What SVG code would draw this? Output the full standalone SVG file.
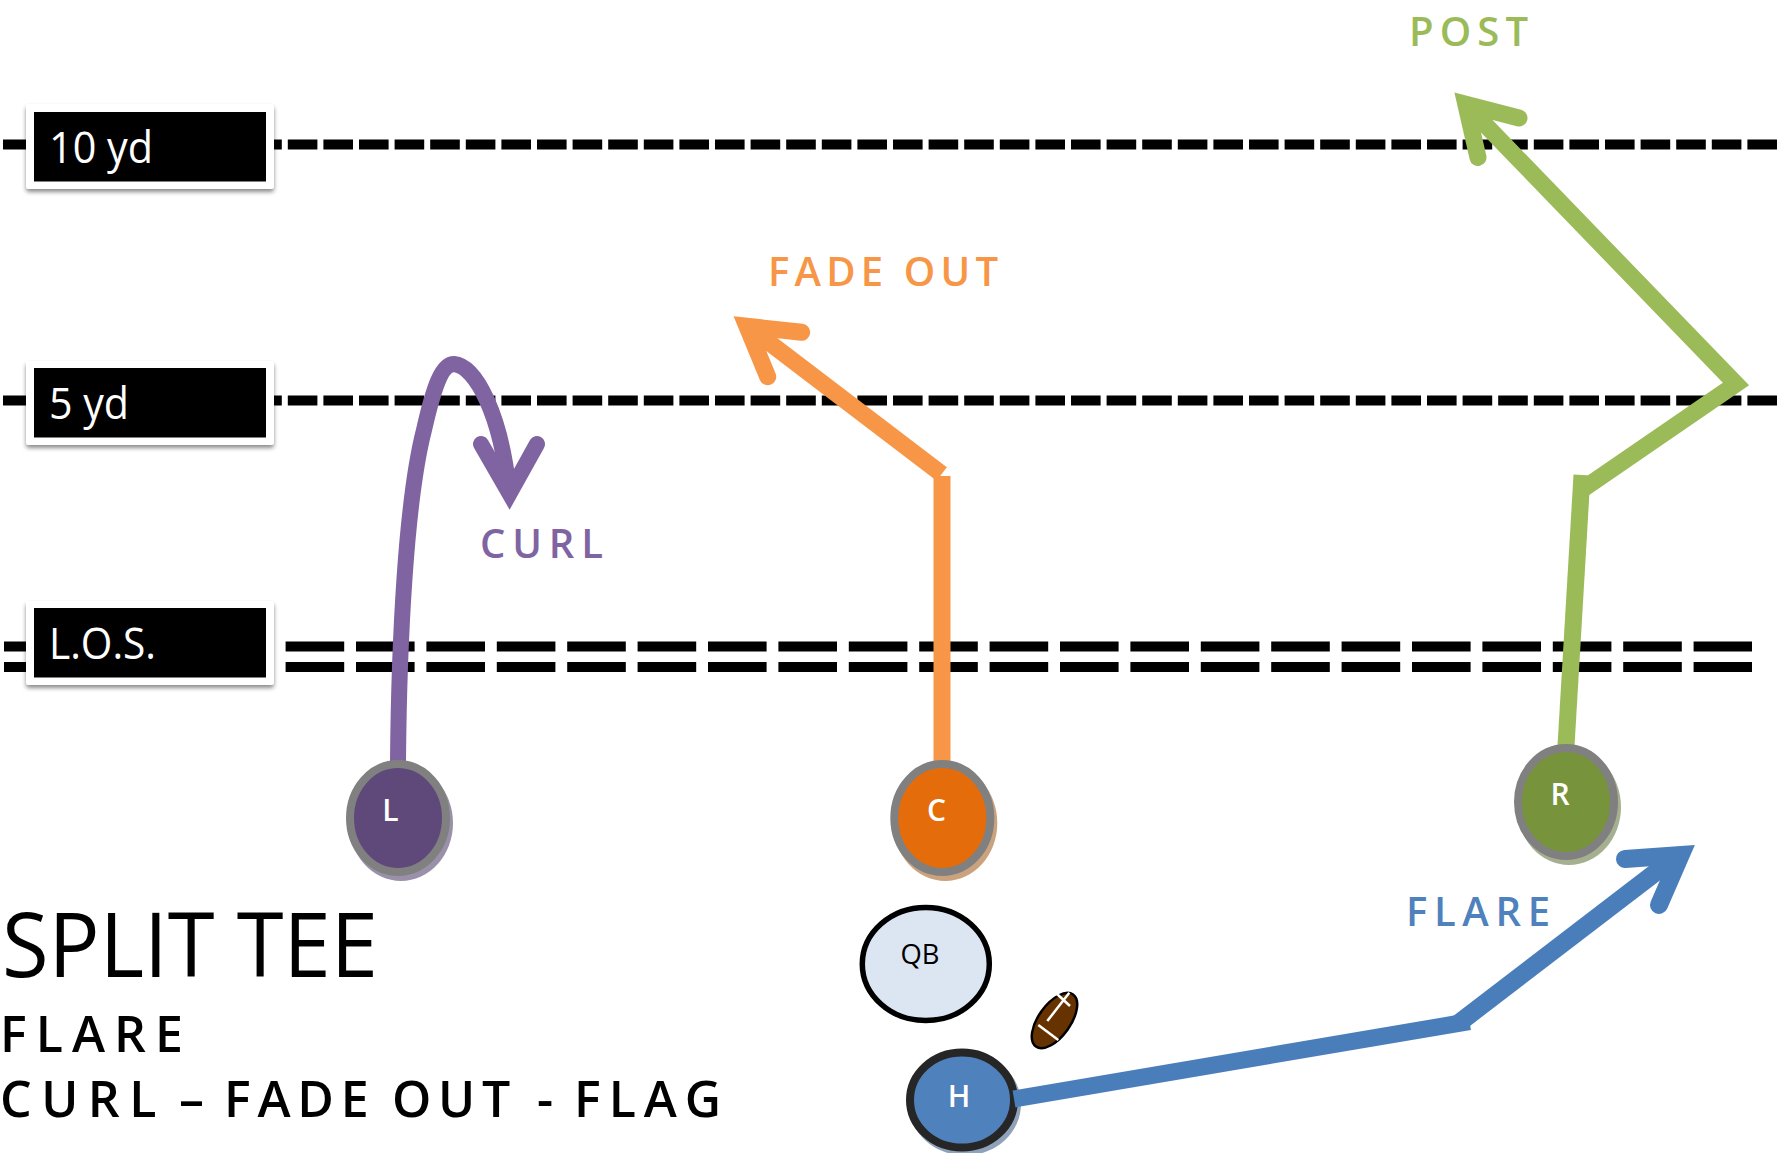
<svg xmlns="http://www.w3.org/2000/svg" width="1787" height="1153" viewBox="0 0 1787 1153">
<defs>
<filter id="sh" x="-10%" y="-20%" width="120%" height="150%"><feDropShadow dx="0" dy="3" stdDeviation="2.2" flood-color="#000" flood-opacity="0.45"/></filter>
</defs>
<style>
text{font-family:"Open Sans","Noto Sans","Liberation Sans",sans-serif}
.y{fill:none;stroke:#000;stroke-width:10;stroke-dasharray:29.6 6}
.l{fill:none;stroke:#000;stroke-width:10;stroke-dasharray:58.6 11.8}
.out{fill:#fff;filter:url(#sh)}
.lab{fill:#fff;font-size:43px}
.r{fill:none;stroke-width:17}
.h{fill:none;stroke-width:17;stroke-linecap:round;stroke-linejoin:miter;stroke-miterlimit:10}
.rt{font-size:40px;font-weight:600}
.n{fill:#fff;font-size:30px;font-weight:600}
.pu{stroke:#8064a2}.or{stroke:#f79646}.gr{stroke:#9bbb59}.bl{stroke:#4a7ebb}
</style>
<g id="yard-lines">
<path class="y" d="M3 144.500H1777"/>
<path class="y" d="M3 400.500H1777"/>
<path class="l" d="M4 646.500H1752"/>
<path class="l" d="M4 667H1752"/>
</g>
<g id="label-10yd"><rect class="out" x="26" y="104" width="248" height="85" rx="3"/><rect x="34" y="112" width="232" height="69.500"/><text class="lab" x="49" y="162.500" textLength="104" lengthAdjust="spacingAndGlyphs">10 yd</text></g>
<g id="label-5yd"><rect class="out" x="26" y="361" width="248" height="84" rx="3"/><rect x="34" y="368" width="232" height="69.500"/><text class="lab" x="49" y="419" textLength="80" lengthAdjust="spacingAndGlyphs">5 yd</text></g>
<g id="label-los"><rect class="out" x="26" y="601" width="248" height="84" rx="3"/><rect x="34" y="608" width="232" height="69.500"/><text class="lab" x="49" y="659" textLength="107" lengthAdjust="spacingAndGlyphs">L.O.S.</text></g>
<g id="node-h"><ellipse cx="965" cy="1104" rx="56" ry="51.500" fill="#8ea3ba"/><ellipse cx="962" cy="1100" rx="52" ry="47.500" fill="#4f81bd" stroke="#262626" stroke-width="8"/><text class="n" x="959" y="1107" text-anchor="middle">H</text></g>
<g id="connectors">
<path class="r pu" style="stroke-width:16" d="M398 762C399 640 406 500 424 430C434 386 442 364 454 364C476 366 501 415 509 492"/>
<path class="h pu" style="stroke-width:16" d="M481 444L509.500 493.500L537 444"/>
<path class="r or" d="M942 762V476"/>
<path class="r or" d="M941.700 474L750 328"/>
<path class="h or" d="M801.700 332.300L746.900 326.300L767.700 376.700"/>
<path class="r gr" d="M1566 746L1582 475"/>
<path class="r gr" style="stroke-miterlimit:10" d="M1583 489L1736 384L1471 110"/>
<path class="h gr" d="M1519 118L1465.800 104.200L1478 157.500"/>
<path class="r bl" d="M1014 1099L1469.500 1021.500"/>
<path class="r bl" style="stroke-width:18" d="M1459 1023L1677 856"/>
<path class="h bl" style="stroke-width:18" d="M1625 859L1680.700 855L1659 905"/>
</g>
<g id="node-l"><ellipse cx="401" cy="823" rx="52" ry="58" fill="#9b90a9"/><ellipse cx="398" cy="818" rx="48" ry="54" fill="#5f497a" stroke="#808080" stroke-width="8"/><text class="n" x="390.500" y="821" text-anchor="middle">L</text></g>
<g id="node-c"><ellipse cx="945.300" cy="823" rx="52" ry="58" fill="#cba27e"/><ellipse cx="942.300" cy="818" rx="48" ry="54" fill="#e46c0a" stroke="#808080" stroke-width="8"/><text class="n" x="936.500" y="821" text-anchor="middle">C</text></g>
<g id="node-r"><ellipse cx="1569" cy="807" rx="52" ry="58" fill="#a5b091"/><ellipse cx="1566" cy="802" rx="48" ry="54" fill="#77933c" stroke="#808080" stroke-width="8"/><text class="n" x="1560" y="805" text-anchor="middle">R</text></g>
<g id="node-qb"><ellipse cx="925.800" cy="964" rx="63.500" ry="56.500" fill="#dce6f2" stroke="#000" stroke-width="5.500"/><text x="920" y="964" font-size="28" text-anchor="middle" textLength="39" lengthAdjust="spacingAndGlyphs">QB</text></g>
<g id="football"><ellipse cx="1054.500" cy="1020.500" rx="16" ry="32" transform="rotate(35.500 1054.500 1020.500)" fill="#663300" stroke="#000" stroke-width="2.500"/><path d="M1047.300 1021L1069.300 992.700M1057 994L1070 1006M1038.300 1025L1058.300 1040" stroke="#fff" stroke-width="2.500" fill="none"/></g>
<g id="texts">
<text class="rt" x="1409" y="46" fill="#9bbb59" textLength="119" lengthAdjust="spacing">POST</text>
<text class="rt" x="768" y="286" fill="#f79646" textLength="230" lengthAdjust="spacing">FADE OUT</text>
<text class="rt" x="480" y="558" fill="#8064a2" textLength="123" lengthAdjust="spacing">CURL</text>
<text class="rt" x="1406" y="926" fill="#4f81bd" textLength="144" lengthAdjust="spacing">FLARE</text>
<text x="2" y="977" font-size="90" textLength="376" lengthAdjust="spacingAndGlyphs">SPLIT TEE</text>
<text x="0" y="1051.500" font-size="50" font-weight="600" textLength="183" lengthAdjust="spacing">FLARE</text>
<text y="1116.500" font-size="50" font-weight="600"><tspan x="0" letter-spacing="9.500">CURL</tspan><tspan x="179">–</tspan><tspan x="224" letter-spacing="6.800">FADE</tspan><tspan x="392" letter-spacing="6.700">OUT</tspan><tspan x="537">-</tspan><tspan x="574" letter-spacing="8">FLAG</tspan></text>
</g>
</svg>
